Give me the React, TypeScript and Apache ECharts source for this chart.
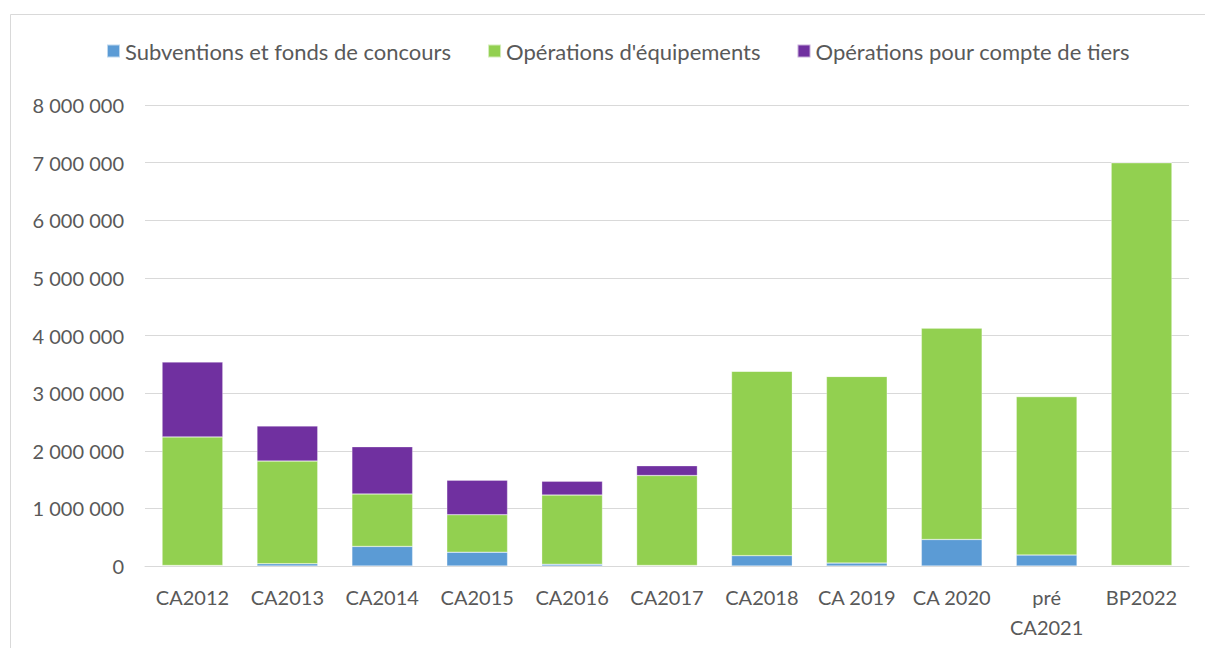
import React, { useEffect, useRef } from "react";
import * as echarts from "echarts";

const categories = ["CA2012", "CA2013", "CA2014", "CA2015", "CA2016", "CA2017", "CA2018", "CA 2019", "CA 2020", "pré\nCA2021", "BP2022"];
const subventions = [10000, 40000, 340000, 240000, 30000, 10000, 180000, 50000, 460000, 190000, 10000];
const equipements = [2230000, 1780000, 910000, 650000, 1200000, 1560000, 3200000, 3240000, 3670000, 2750000, 6990000];
const tiers = [1300000, 610000, 820000, 600000, 240000, 170000, 0, 0, 0, 0, 0];
const yTicks = [0, 1000000, 2000000, 3000000, 4000000, 5000000, 6000000, 7000000, 8000000];

const FONT = "Lato";
const GRAY = "#595959";

function fmt(v: number): string {
  return String(Math.round(v)).replace(/\B(?=(\d{3})+(?!\d))/g, " ");
}

export default function App() {
  const ref = useRef<HTMLDivElement>(null);
  useEffect(() => {
    const chart = echarts.init(ref.current!, null, { renderer: "svg" });
    const barStyle = (color: string) => ({ color, borderColor: "rgba(255,255,255,0.6)", borderWidth: 0.5 });
    chart.setOption({
      animation: false,
      textStyle: { fontFamily: FONT },
      graphic: [
        {
          type: "rect",
          shape: { x: 10.5, y: 14.5, width: 1210, height: 650 },
          style: { fill: "none", stroke: "#d9d9d9", lineWidth: 1 },
          silent: true,
        },
      ],
      legend: {
        top: 35,
        left: 101,
        itemWidth: 13,
        itemHeight: 13,
        itemGap: 36,
        icon: "rect",
        textStyle: { fontFamily: FONT, fontSize: 22, color: GRAY },
        data: ["Subventions et fonds de concours", "Opérations d'équipements", "Opérations pour compte de tiers"],
      },
      grid: { left: 145, right: 16, top: 105, bottom: 82, containLabel: false },
      xAxis: {
        type: "category",
        data: categories,
        axisTick: { show: false },
        axisLine: { lineStyle: { color: "#d9d9d9", width: 1 } },
        axisLabel: { color: GRAY, fontSize: 20, fontFamily: FONT, margin: 16, lineHeight: 30, interval: 0 },
      },
      yAxis: {
        type: "value",
        min: yTicks[0],
        max: yTicks[yTicks.length - 1],
        interval: yTicks[1] - yTicks[0],
        splitLine: { lineStyle: { color: "#d9d9d9", width: 1 } },
        axisLine: { show: false },
        axisTick: { show: false },
        axisLabel: { color: GRAY, fontSize: 20, fontFamily: FONT, margin: 21, formatter: (v: number) => fmt(v) },
      },
      series: [
        { name: "Subventions et fonds de concours", type: "bar", stack: "s", data: subventions, barWidth: "64%", itemStyle: barStyle("#5B9BD5") },
        { name: "Opérations d'équipements", type: "bar", stack: "s", data: equipements, itemStyle: barStyle("#92D050") },
        { name: "Opérations pour compte de tiers", type: "bar", stack: "s", data: tiers, itemStyle: barStyle("#7030A0") },
      ],
    });
    return () => chart.dispose();
  }, []);
  return <div ref={ref} style={{ position: "absolute", left: 0, top: 0, width: 1205, height: 648, background: "#fff" }} />;
}
